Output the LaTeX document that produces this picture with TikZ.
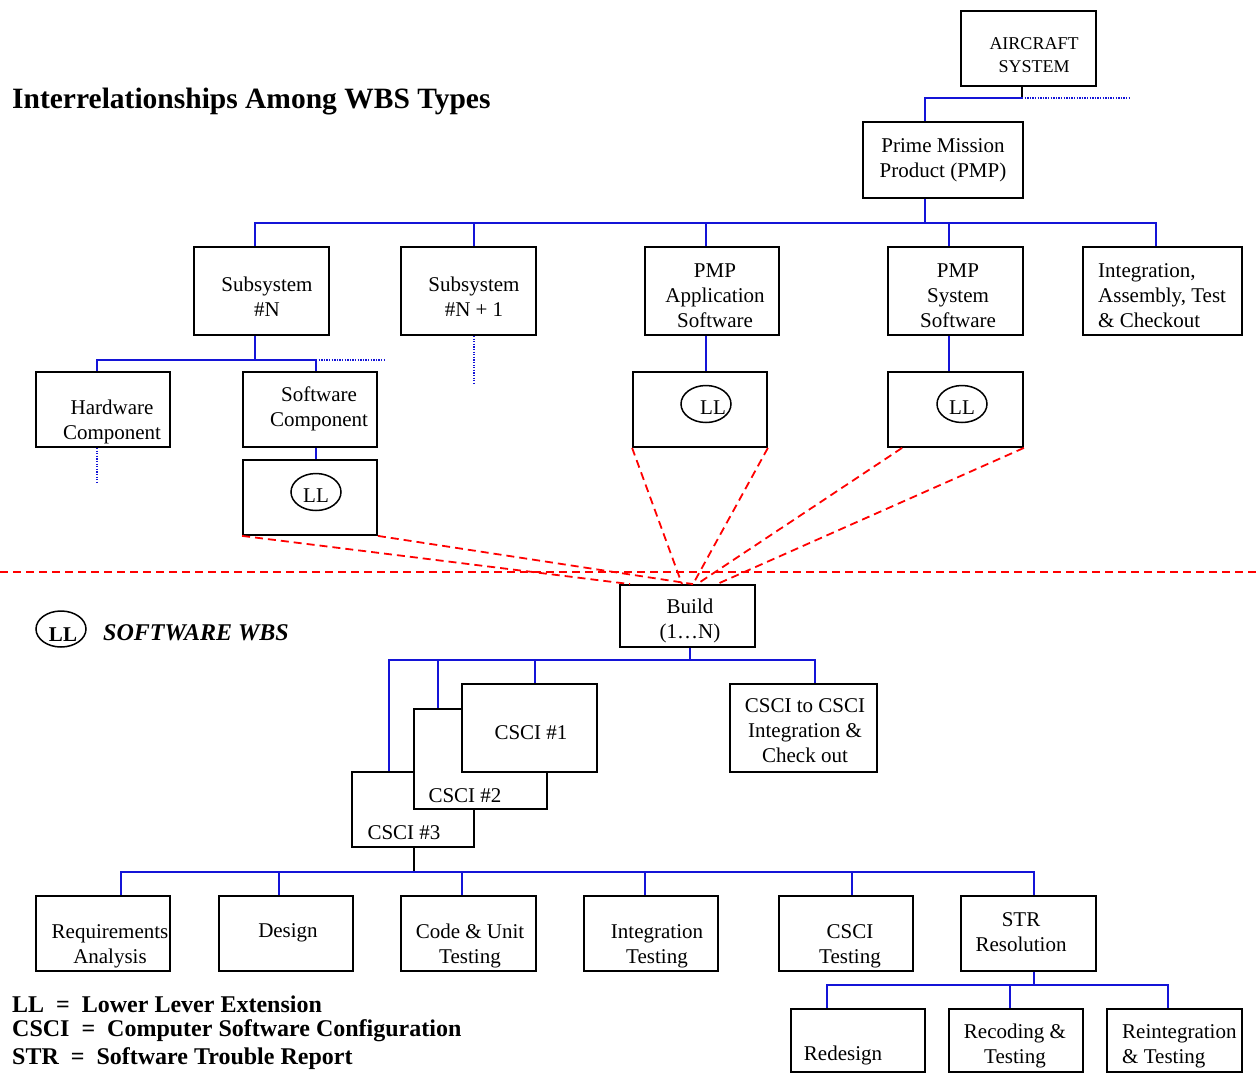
\documentclass[tikz,border=0pt]{standalone}
\usepackage{fontspec}
\setmainfont{Liberation Serif}
\usetikzlibrary{fit,shapes.geometric,calc}
\definecolor{wbsblue}{RGB}{20,20,215}
\definecolor{wbsred}{RGB}{255,0,0}
\tikzset{
  box/.style={draw=black, line width=1.8pt, fill=white, inner sep=0pt, rectangle},
  txt/.style={font=\fontsize{21}{25}\selectfont, align=center, inner sep=0pt, yshift=-2pt},
  txtsmall/.style={font=\fontsize{18}{23}\selectfont, align=center, inner sep=0pt, yshift=-1pt},
  legtxt/.style={font=\fontsize{24}{28}\selectfont\bfseries, inner sep=0pt, anchor=west},
  llell/.style={draw=black, line width=1.5pt, ellipse, inner sep=0pt, minimum width=50pt, minimum height=37pt, font=\fontsize{21}{25}\selectfont},
  blu/.style={draw=wbsblue, line width=1.8pt},
  bdot/.style={draw=wbsblue, line width=1.3pt, dash pattern=on 1.3pt off 1.3pt},
  blk/.style={draw=black, line width=1.5pt},
  rdash/.style={draw=wbsred, line width=1.8pt, dash pattern=on 8pt off 5pt}
}
\begin{document}
\begin{tikzpicture}[x=1pt,y=-1pt]
\useasboundingbox (0,0) rectangle (1259,1080);
\fill[white] (0,0) rectangle (1259,1080);

% title
\node[font=\fontsize{29.5}{34}\selectfont\bfseries, inner sep=0pt, anchor=west] (title) at (12,102) {Interrelationships Among WBS Types};

% top boxes
\node[box, fit={(961,11)(1096,86)}] (ac) {};
\node[box, fit={(863,122)(1023,198)}] (pmp) {};
\node[box, fit={(194,247)(329,335)}] (sysN) {};
\node[box, fit={(401,247)(536,335)}] (sysN1) {};
\node[box, fit={(645,247)(779,335)}] (app) {};
\node[box, fit={(888,247)(1023,335)}] (ssw) {};
\node[box, fit={(1083,247)(1242,335)}] (iat) {};
\node[box, fit={(36,372)(170,447)}] (hw) {};
\node[box, fit={(243,372)(377,447)}] (swc) {};
\node[box, fit={(243,460)(377,535)}] (ll1) {};
\node[box, fit={(633,372)(767,447)}] (ll2) {};
\node[box, fit={(888,372)(1023,447)}] (ll3) {};
\node[box, fit={(620,585)(755,647)}] (build) {};
\node[box, fit={(730,684)(877,772)}] (c2c) {};
\node[box, fit={(36,896)(170,971)}] (req) {};
\node[box, fit={(219,896)(353,971)}] (des) {};
\node[box, fit={(401,896)(536,971)}] (code) {};
\node[box, fit={(584,896)(718,971)}] (integ) {};
\node[box, fit={(779,896)(913,971)}] (ctest) {};
\node[box, fit={(961,896)(1096,971)}] (str) {};
\node[box, fit={(791,1009)(925,1072)}] (rd) {};
\node[box, fit={(949,1009)(1083,1072)}] (rc) {};
\node[box, fit={(1107,1009)(1242,1072)}] (ri) {};

% stacked CSCI boxes: #3 behind #2 behind #1
\node[box, fit={(352,772)(474,847)}] (csci3) {};
\node[txt] (c3t) at (404,831) {CSCI \#3};
\node[box, fit={(414,709)(547,809)}] (csci2) {};
\node[txt] (c2t) at (465,794) {CSCI \#2};
\node[box, fit={(462,684)(597,772)}] (csci1) {};
\node[txt] (c1t) at (531,731) {CSCI \#1};

% ---------- connectors ----------
\draw[blk] ([xshift=-6.5]ac.south) -- ++(0,11) coordinate (acb);
\draw[blu] (acb) -| ([xshift=-18]pmp.north);
\draw[bdot] (acb) -- ++(108,0) coordinate (acr);

\draw[blu] ([xshift=-18]pmp.south) -- ++(0,24) coordinate (b2);
\foreach \n/\s in {sysN/-6.5, sysN1/5.5, app/-6, ssw/-6.5, iat/-6.5}
  \draw[blu] (b2) -| ([xshift=\s]\n.north);

\draw[blu] ([xshift=-6.5]sysN.south) -- ++(0,24) coordinate (b3);
\draw[blu] (b3) -| ([xshift=-6]hw.north);
\draw[blu] (b3) -| ([xshift=6]swc.north) coordinate[pos=0.5] (b3r);
\draw[bdot] (b3r) -- ++(70,0) coordinate (b3d);
\draw[bdot] ([xshift=5.5]sysN1.south) -- ++(0,47) coordinate (n1d);
\draw[bdot] ([xshift=-6]hw.south) -- ++(0,35) coordinate (hwd);

\draw[blu] ([xshift=6]swc.south) -- ([xshift=6]ll1.north);
\draw[blu] ([xshift=-6]app.south) -- ([xshift=6]ll2.north);
\draw[blu] ([xshift=-6.5]ssw.south) -- ([xshift=-6.5]ll3.north);

% red dashed lines
\coordinate (rl) at (0,572);
\coordinate (rr) at (1259,572);
\draw[rdash] (rl) -- (rr);
\draw[rdash] (ll1.south west) -- ([xshift=-57.5]build.north);
\draw[rdash] (ll1.south east) -- ([xshift=5.5]build.north);
\draw[rdash] (ll2.south west) -- ([xshift=-5.5]build.north);
\draw[rdash] (ll2.south east) -- ([xshift=5.5]build.north);
\draw[rdash] ([xshift=15]ll3.south west) -- ([xshift=9.5]build.north);
\draw[rdash] (ll3.south east) -- ([xshift=29.5]build.north);

% lower tree
\draw[blu] ([xshift=2.5]build.south) -- ++(0,12) coordinate (b4);
\draw[blu] (b4) -| ([xshift=-24]csci3.north);
\draw[blu] (b4) -| ([xshift=-42.5]csci2.north);
\draw[blu] (b4) -| ([xshift=5.5]csci1.north);
\draw[blu] (b4) -| ([xshift=11.5]c2c.north);

\draw[blk] ([xshift=1]csci3.south) -- ++(0,24) coordinate (b5);
\foreach \n/\s in {req/18, des/-7, code/-6.5, integ/-6, ctest/6, str/5.5}
  \draw[blu] (b5) -| ([xshift=\s]\n.north);

\draw[blu] ([xshift=5.5]str.south) -- ++(0,13) coordinate (b6);
\foreach \n/\s in {rd/-31, rc/-6, ri/-6.5}
  \draw[blu] (b6) -| ([xshift=\s]\n.north);

% ---------- texts ----------
\node[txtsmall] (act) at (1034,54) {AIRCRAFT\\SYSTEM};
\node[txt] (pmpt) at (943,158) {Prime Mission\\Product (PMP)};
\node[txt] (sysNt) at (267,295) {Subsystem\\\#N};
\node[txt] (sysN1t) at (474,295) {Subsystem\\\#N + 1};
\node[txt] (appt) at (715,294) {PMP\\Application\\Software};
\node[txt] (sswt) at (958,294) {PMP\\System\\Software};
\node[txt, align=left, anchor=west] (iatt) at (1098,294) {Integration,\\Assembly, Test\\\& Checkout};
\node[txt] (hwt) at (112,420) {Hardware\\Component};
\node[txt] (swct) at (319,407) {Software\\Component};
\node[llell] (e1) at (316,492) {};
\node[txt] (e1t) at (316,494) {LL};
\node[llell] (e2) at (706,404) {};
\node[txt] (e2t) at (713,406) {LL};
\node[llell] (e3) at (962,404) {};
\node[txt] (e3t) at (962,406) {LL};
\node[txt] (buildt) at (690,619) {Build\\(1…N)};
\node[txt] (c2ct) at (805,729) {CSCI to CSCI\\Integration \&\\Check out};
\node[txt] (reqt) at (110,944) {Requirements\\Analysis};
\node[txt] (dest) at (288,931) {Design};
\node[txt] (codet) at (470,944) {Code \& Unit\\Testing};
\node[txt] (integt) at (657,944) {Integration\\Testing};
\node[txt] (ctestt) at (850,944) {CSCI\\Testing};
\node[txt] (strt) at (1021,930) {STR\\Resolution};
\node[txt] (rdt) at (843,1053) {Redesign};
\node[txt] (rct) at (1015,1044) {Recoding \&\\Testing};
\node[txt, align=left, anchor=west] (rit) at (1122,1044) {Reintegration\\\& Testing};

% legend
\node[llell, minimum height=36pt] (lege) at (61,629) {};
\node[txt, font=\fontsize{21}{25}\selectfont\bfseries] (leget) at (63,633) {LL};
\node[font=\fontsize{24}{28}\selectfont\bfseries\itshape, inner sep=0pt, anchor=west] (swbs) at (103,633) {SOFTWARE WBS};
\node[legtxt] (leg1) at (12,1004) {LL~~=~~Lower Lever Extension};
\node[legtxt] (leg2) at (12,1031) {CSCI~~=~~Computer Software Configuration};
\node[legtxt] (leg3) at (12,1059) {STR~~=~~Software Trouble Report};
\end{tikzpicture}
\end{document}
